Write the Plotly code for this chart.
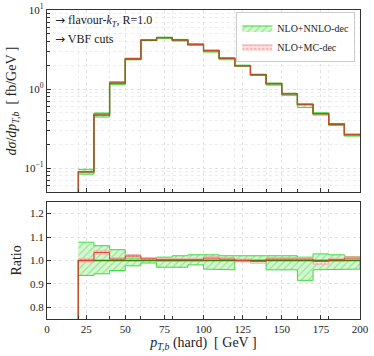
import plotly.graph_objects as go

# ---- data ----
bin_edges = [20, 30, 40, 50, 60, 70, 80, 90, 100, 110, 120, 130, 140, 150, 160, 170, 180, 190, 200]
nnlo_dec = [0.090, 0.470, 1.19, 2.40, 4.15, 4.47, 4.17, 3.66, 3.05, 2.45, 1.97, 1.52, 1.17, 0.87, 0.64, 0.49, 0.36, 0.265]
mc_dec = [0.090, 0.486, 1.197, 2.446, 4.18, 4.48, 4.18, 3.67, 3.08, 2.46, 1.97, 1.51, 1.18, 0.873, 0.644, 0.488, 0.361, 0.268]
nnlo_ratio_up = [1.078, 1.063, 1.046, 1.010, 1.010, 1.014, 1.020, 1.024, 1.024, 1.020, 1.020, 1.017, 1.020, 1.020, 1.014, 1.028, 1.024, 1.017]
nnlo_ratio_dn = [0.936, 0.943, 0.957, 0.977, 0.989, 0.971, 0.971, 0.981, 0.963, 0.960, 0.996, 0.998, 0.960, 0.960, 0.915, 0.960, 0.963, 0.963]
mc_ratio = [1.000, 1.034, 1.006, 1.019, 1.007, 1.003, 1.003, 1.003, 1.010, 1.006, 1.000, 0.996, 1.006, 1.003, 1.006, 0.996, 1.003, 1.010]
mc_ratio_up = [1.007, 1.041, 1.012, 1.025, 1.013, 1.009, 1.009, 1.009, 1.016, 1.012, 1.006, 1.002, 1.012, 1.009, 1.012, 1.002, 1.009, 1.016]
mc_ratio_dn = [0.993, 1.027, 1.000, 1.013, 1.001, 0.997, 0.997, 0.997, 1.004, 1.000, 0.994, 0.988, 1.000, 0.997, 0.998, 0.984, 0.997, 1.004]
nnlo_ratio = [1.0] * len(nnlo_dec)

x_ticks = [0, 25, 50, 75, 100, 125, 150, 175, 200]
x_minor_ticks = [20, 40, 60, 80, 120, 140, 160, 180]
y_major_ticks = [0.1, 1, 10]
y_major_labels = ["10<sup>\u22121</sup>", "10<sup>0</sup>", "10<sup>1</sup>"]
y_minor_ticks = [0.06, 0.07, 0.08, 0.09, 0.2, 0.3, 0.4, 0.5, 0.6, 0.7, 0.8, 0.9,
                 2, 3, 4, 5, 6, 7, 8, 9]
ratio_ticks = [0.8, 0.9, 1.0, 1.1, 1.2]

GREEN_LINE = "#3f7d0a"
GREEN_EDGE = "#3ddc3d"
GREEN_FILL = "#d4f7d0"
RED_LINE = "#d8452c"
RED_EDGE = "#f2a6a6"
RED_FILL = "#fbe0e0"
FONT = "Liberation Serif"


def steps(edges, vals, start=None):
    xs, ys = [], []
    if start is not None:
        xs.append(edges[0]); ys.append(start)
    for i, v in enumerate(vals):
        xs += [edges[i], edges[i + 1]]
        ys += [v, v]
    return xs, ys


def band(edges, lo, hi):
    xu, yu = steps(edges, hi)
    xl, yl = steps(edges, lo)
    return xu + xl[::-1], yu + yl[::-1]


green_pattern = dict(shape="/", fgcolor="#5fcf5f", bgcolor=GREEN_FILL, size=5, solidity=0.25)
red_pattern = dict(shape=".", fgcolor="#ee8888", bgcolor=RED_FILL, size=4, solidity=0.3)

fig = go.Figure()

# ---------- top panel ----------
g_hi = [c * u for c, u in zip(nnlo_dec, nnlo_ratio_up)]
g_lo = [c * d for c, d in zip(nnlo_dec, nnlo_ratio_dn)]
bx, by = band(bin_edges, g_lo, g_hi)
fig.add_trace(go.Scatter(x=bx, y=by, fill="toself", mode="lines",
                         line=dict(color=GREEN_EDGE, width=1), fillcolor=GREEN_FILL,
                         fillpattern=green_pattern,
                         name="NLO+NNLO-dec", xaxis="x", yaxis="y"))
r_hi = [c * u for c, u in zip(nnlo_dec, mc_ratio_up)]
r_lo = [c * d for c, d in zip(nnlo_dec, mc_ratio_dn)]
bx, by = band(bin_edges, r_lo, r_hi)
fig.add_trace(go.Scatter(x=bx, y=by, fill="toself", mode="lines",
                         line=dict(color=RED_EDGE, width=1), fillcolor=RED_FILL,
                         fillpattern=red_pattern,
                         name="NLO+MC-dec", xaxis="x", yaxis="y"))
sx, sy = steps(bin_edges, nnlo_dec, start=1e-3)
fig.add_trace(go.Scatter(x=sx, y=sy, mode="lines", line=dict(color=GREEN_LINE, width=1.4),
                         showlegend=False, xaxis="x", yaxis="y"))
sx, sy = steps(bin_edges, mc_dec, start=1e-3)
fig.add_trace(go.Scatter(x=sx, y=sy, mode="lines", line=dict(color=RED_LINE, width=1.0),
                         showlegend=False, xaxis="x", yaxis="y"))

# ---------- ratio panel ----------
bx, by = band(bin_edges, nnlo_ratio_dn, nnlo_ratio_up)
fig.add_trace(go.Scatter(x=bx, y=by, fill="toself", mode="lines",
                         line=dict(color=GREEN_EDGE, width=1), fillcolor=GREEN_FILL,
                         fillpattern=green_pattern,
                         showlegend=False, xaxis="x2", yaxis="y2"))
bx, by = band(bin_edges, mc_ratio_dn, mc_ratio_up)
fig.add_trace(go.Scatter(x=bx, y=by, fill="toself", mode="lines",
                         line=dict(color=RED_EDGE, width=0.8), fillcolor=RED_FILL,
                         fillpattern=red_pattern,
                         showlegend=False, xaxis="x2", yaxis="y2"))
sx, sy = steps(bin_edges, nnlo_ratio, start=0.5)
fig.add_trace(go.Scatter(x=sx, y=sy, mode="lines", line=dict(color=GREEN_LINE, width=1.4),
                         showlegend=False, xaxis="x2", yaxis="y2"))
sx, sy = steps(bin_edges, mc_ratio, start=0.5)
fig.add_trace(go.Scatter(x=sx, y=sy, mode="lines", line=dict(color=RED_LINE, width=1.0),
                         showlegend=False, xaxis="x2", yaxis="y2"))

axis_common = dict(showline=True, linecolor="#333", linewidth=1.3, mirror=True,
                   ticks="inside", tickcolor="#333", ticklen=4, tickwidth=1,
                   showgrid=True, gridcolor="#e2e2e2", griddash="dot", gridwidth=1,
                   zeroline=False, automargin=False,
                   tickfont=dict(family=FONT, size=11, color="#222"))
minor_x = dict(ticks="inside", ticklen=2.5, tickcolor="#333", tickvals=x_minor_ticks,
               showgrid=True, gridcolor="#ececec", griddash="dot")
minor_y = dict(ticks="inside", ticklen=2.5, tickcolor="#333", tickvals=y_minor_ticks,
               showgrid=True, gridcolor="#ededed", griddash="dot")

fig.update_layout(
    width=374, height=356,
    margin=dict(l=47, r=14, t=10, b=37),
    paper_bgcolor="white", plot_bgcolor="white",
    font=dict(family=FONT, size=12, color="#222"),
    xaxis=dict(domain=[0, 1], range=[0, 200], anchor="y", matches="x2",
               showticklabels=False, tickvals=x_ticks, minor=minor_x, **axis_common),
    yaxis=dict(domain=[0.411, 1], type="log", range=[-1.3, 1], anchor="x",
               tickvals=y_major_ticks, ticktext=y_major_labels, minor=minor_y,
               title=dict(text="<i>d\u03c3</i>/<i>dp</i><sub><i>T,b</i></sub>  [ fb/GeV ]",
                          font=dict(family=FONT, size=14), standoff=4),
               **axis_common),
    xaxis2=dict(domain=[0, 1], range=[0, 200], anchor="y2", tickvals=x_ticks, minor=minor_x,
                title=dict(text="<i>p</i><sub><i>T,b</i></sub> (hard)  [ GeV ]",
                           font=dict(family=FONT, size=14), standoff=2),
                **axis_common),
    yaxis2=dict(domain=[0, 0.379], range=[0.75, 1.25], anchor="x2",
                tickvals=ratio_ticks, tickformat=".1f",
                title=dict(text="Ratio", font=dict(family=FONT, size=14), standoff=4),
                **axis_common),
    legend=dict(x=0.985, y=0.992, xanchor="right", yanchor="top",
                bgcolor="rgba(255,255,255,0.9)", bordercolor="#cccccc", borderwidth=1,
                font=dict(family=FONT, size=10, color="#222"),
                itemwidth=30, tracegroupgap=0),
    showlegend=True,
)

arrow = "<span style='font-family:DejaVu Sans'>\u2192</span>"
fig.add_annotation(x=0.02, y=0.965, xref="paper", yref="paper", xanchor="left", yanchor="middle",
                   text=arrow + " flavour-<i>k</i><sub><i>T</i></sub>, R=1.0", showarrow=False,
                   font=dict(family=FONT, size=12, color="#222"))
fig.add_annotation(x=0.02, y=0.905, xref="paper", yref="paper", xanchor="left", yanchor="middle",
                   text=arrow + " VBF cuts", showarrow=False,
                   font=dict(family=FONT, size=12, color="#222"))

fig.write_html("out.html", config={"displayModeBar": False},
               post_script="document.body.style.margin='0';document.body.style.overflow='hidden';")
